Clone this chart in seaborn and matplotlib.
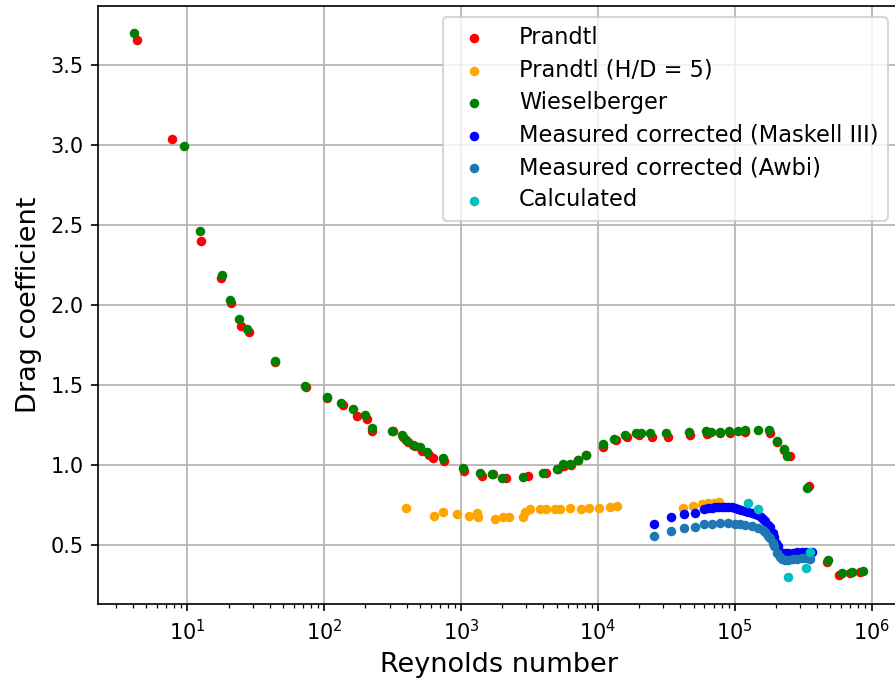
import matplotlib
matplotlib.use("Agg")
import matplotlib.pyplot as plt
import seaborn as sns
import numpy as np

# Prandtl (infinite cylinder)
prandtl_re = [4.25, 7.78, 12.6, 17.7, 20.9, 24.8, 28.4, 43.9, 73.9, 105, 138, 174,
              206, 224, 319, 377, 411, 462, 519, 584, 625, 752, 1052, 1423, 1713,
              2130, 3083, 4170, 5105, 5650, 6355, 7145, 8170, 10870, 13530, 16280,
              19900, 24790, 32450, 46950, 62520, 77780, 91980, 118300, 179900,
              202600, 228000, 251900, 346800, 469700, 574300, 690600, 816600]
prandtl_cd = [3.656, 3.04, 2.40, 2.17, 2.01, 1.87, 1.83, 1.644, 1.49, 1.42, 1.375,
              1.306, 1.29, 1.21, 1.21, 1.175, 1.144, 1.12, 1.09, 1.06, 1.044, 1.025,
              0.96, 0.93, 0.944, 0.92, 0.93, 0.95, 0.975, 0.99, 1.0, 1.03, 1.06,
              1.115, 1.156, 1.175, 1.185, 1.175, 1.175, 1.1875, 1.194, 1.20, 1.20,
              1.206, 1.20, 1.144, 1.094, 1.056, 0.869, 0.394, 0.3125, 0.325, 0.331]

# Prandtl, H/D = 5
prandtl_hd_re = [397, 635, 739, 935, 1143, 1309, 1331, 1771, 2027, 2240, 2835, 2932,
                 3190, 3775, 4170, 4855, 5285, 6250, 7515, 8590, 10160, 12230, 13760,
                 41700, 49350, 57430, 63550, 70300, 76420]
prandtl_hd_cd = [0.731, 0.68, 0.706, 0.694, 0.68, 0.70, 0.675, 0.6625, 0.675, 0.675,
                 0.675, 0.706, 0.725, 0.725, 0.725, 0.725, 0.725, 0.731, 0.725, 0.731,
                 0.731, 0.7375, 0.744, 0.731, 0.744, 0.756, 0.7625, 0.7625, 0.769]

# Wieselberger
wiesel_re = [4.10, 9.51, 12.4, 18.0, 20.6, 24.0, 27.4, 43.9, 72.6, 105, 133, 163, 199,
             224, 313, 371, 397, 447, 502, 565, 739, 1035, 1377, 1683, 1992, 2835,
             3970, 5020, 5560, 6250, 7145, 8170, 10870, 13090, 15740, 18930, 20600,
             23990, 31370, 46150, 61430, 66840, 77780, 90370, 105200, 118300, 147200,
             177000, 202600, 228000, 239900, 335500, 477900, 604000, 714300, 859000]
wiesel_cd = [3.70, 2.994, 2.4625, 2.1875, 2.031, 1.9125, 1.85, 1.65, 1.494, 1.425,
             1.3875, 1.35, 1.3125, 1.231, 1.2125, 1.1875, 1.156, 1.125, 1.1125, 1.081,
             1.044, 0.981, 0.95, 0.944, 0.919, 0.925, 0.95, 0.975, 1.006, 1.006, 1.031,
             1.0625, 1.131, 1.1625, 1.1875, 1.20, 1.20, 1.20, 1.20, 1.206, 1.2125,
             1.206, 1.206, 1.2125, 1.2125, 1.219, 1.219, 1.219, 1.15, 1.10, 1.056,
             0.856, 0.406, 0.325, 0.331, 0.3375]

# measured, corrected with Maskell III
maskell_re = [25650, 34100, 42440, 51050, 59380, 63550, 67950, 72000, 75170, 80000,
              84530, 88920, 95100, 100000, 105200, 111000, 118300, 125000, 133100,
              140000, 147200, 155000, 160000, 167000, 174100, 180000, 189200, 195000,
              199100, 206000, 213000, 222000, 231700, 245000, 265000, 285000, 308500,
              330000, 364600]
maskell_cd = [0.631, 0.675, 0.694, 0.70, 0.725, 0.73, 0.731, 0.735, 0.7375, 0.7375,
              0.7375, 0.736, 0.7375, 0.733, 0.725, 0.72, 0.7125, 0.705, 0.70, 0.69,
              0.6875, 0.675, 0.6625, 0.65, 0.625, 0.61, 0.575, 0.55, 0.5125, 0.49,
              0.456, 0.45, 0.45, 0.45, 0.45, 0.455, 0.456, 0.456, 0.456]

# measured, corrected with Awbi
awbi_re = [25650, 34100, 42440, 51050, 59380, 67950, 77780, 88920, 100000, 110000,
           118300, 133100, 147200, 160000, 165600, 174100, 180000, 189200, 195000,
           202600, 213000, 222000, 231700, 245000, 265000, 283600, 308500, 330000,
           352600]
awbi_cd = [0.556, 0.588, 0.606, 0.613, 0.631, 0.631, 0.6375, 0.6375, 0.633, 0.63,
           0.625, 0.619, 0.606, 0.59, 0.581, 0.556, 0.54, 0.513, 0.49, 0.45, 0.425,
           0.41, 0.406, 0.406, 0.41, 0.4125, 0.415, 0.415, 0.4125]

# calculated
calc_re = [124500, 147200, 243800, 329700, 352600]
calc_cd = [0.7625, 0.725, 0.30, 0.356, 0.456]

series = [
    (prandtl_re, prandtl_cd, "red", "Prandtl"),
    (prandtl_hd_re, prandtl_hd_cd, "orange", "Prandtl (H/D = 5)"),
    (wiesel_re, wiesel_cd, "green", "Wieselberger"),
    (maskell_re, maskell_cd, "blue", "Measured corrected (Maskell III)"),
    (awbi_re, awbi_cd, "tab:blue", "Measured corrected (Awbi)"),
    (calc_re, calc_cd, "c", "Calculated"),
]

fig = plt.figure(figsize=(895 / 150, 681 / 150), dpi=150)
ax = fig.add_axes([98 / 895, 77 / 681, 801 / 895, 598 / 681])

for re, cd, color, name in series:
    sns.scatterplot(x=np.array(re), y=np.array(cd), color=color, s=21,
                    linewidth=0, label=name, ax=ax)

ax.set_xscale("log")
ax.grid(True)
ax.set_axisbelow(True)
ax.set_xlabel("Reynolds number", fontsize=13)
ax.set_ylabel("Drag coefficient", fontsize=13)
ax.tick_params(labelsize=10)
ax.legend(loc="upper right", fontsize=10.8, handletextpad=1.0, labelspacing=0.42)

fig.savefig("out.png", dpi=150)
